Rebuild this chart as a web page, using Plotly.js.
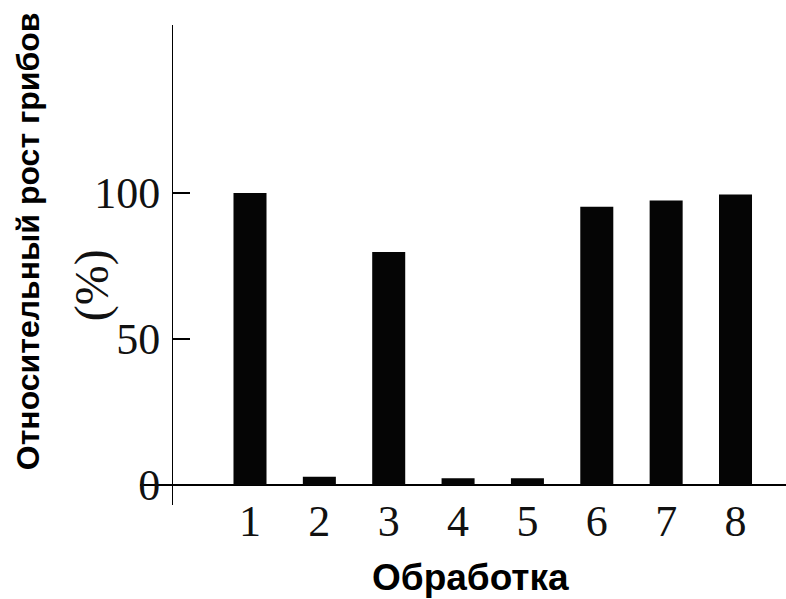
<!DOCTYPE html>
<html>
<head>
<meta charset="utf-8">
<script src="https://cdn.plot.ly/plotly-3.0.1.min.js"></script>
<style>html,body{margin:0;padding:0;background:#fff;}#chart{width:786px;height:599px;}</style>
</head>
<body>
<div id="chart"></div>
<script>
const categories = ["1", "2", "3", "4", "5", "6", "7", "8"];
const growth = [100, 2.8, 79.8, 2.3, 2.3, 95.3, 97.4, 99.5];
const yTickVals = [0, 50, 100];
const yTickText = ["0", "50", "100"];
const xTitle = "Обработка";
const yTitleMain = "Относительный рост грибов";
const yTitleUnit = "(%)";

const serif = "Liberation Serif, Times New Roman, serif";
const sans = "Liberation Sans, Arial, sans-serif";

const trace = {
  type: "bar",
  x: categories,
  y: growth,
  width: 0.476,
  marker: {color: "#050505", line: {width: 0}},
  hoverinfo: "none"
};

const layout = {
  width: 786,
  height: 599,
  margin: {l: 140, r: 0, t: 25, b: 94},
  paper_bgcolor: "#ffffff",
  plot_bgcolor: "#ffffff",
  showlegend: false,
  xaxis: {
    type: "category",
    range: [-1.586, 7.728],
    showline: false,
    showgrid: false,
    zeroline: false,
    ticks: "",
    ticklabelstandoff: -14,
    tickfont: {family: serif, size: 44, color: "#111"}
  },
  yaxis: {
    anchor: "free",
    position: 0.0495,
    range: [-6.85, 157.5],
    showline: true,
    linecolor: "#000",
    linewidth: 1.5,
    showgrid: false,
    zeroline: true,
    zerolinecolor: "#000",
    zerolinewidth: 1.5,
    ticks: "inside",
    ticklen: 17,
    tickwidth: 1.5,
    tickcolor: "#000",
    tickvals: yTickVals,
    ticktext: yTickText,
    ticklabelstandoff: 3,
    tickfont: {family: serif, size: 44, color: "#111"}
  },
  annotations: [
    {text: "<b>" + xTitle + "</b>", xref: "paper", yref: "paper", x: 0.511, y: -0.152,
     xanchor: "center", yanchor: "middle", showarrow: false,
     font: {family: sans, size: 37, color: "#000"}},
    {text: "<b>" + yTitleMain + "</b>", xref: "paper", yref: "paper", x: -0.173, y: 0.550,
     xanchor: "center", yanchor: "middle", textangle: -90, showarrow: false,
     font: {family: sans, size: 32, color: "#000"}},
    {text: yTitleUnit, xref: "paper", yref: "paper", x: -0.0743, y: 0.458,
     xanchor: "center", yanchor: "middle", textangle: -90, showarrow: false,
     font: {family: serif, size: 48, color: "#111"}}
  ]
};

Plotly.newPlot("chart", [trace], layout, {staticPlot: true, displayModeBar: false});
</script>
</body>
</html>
